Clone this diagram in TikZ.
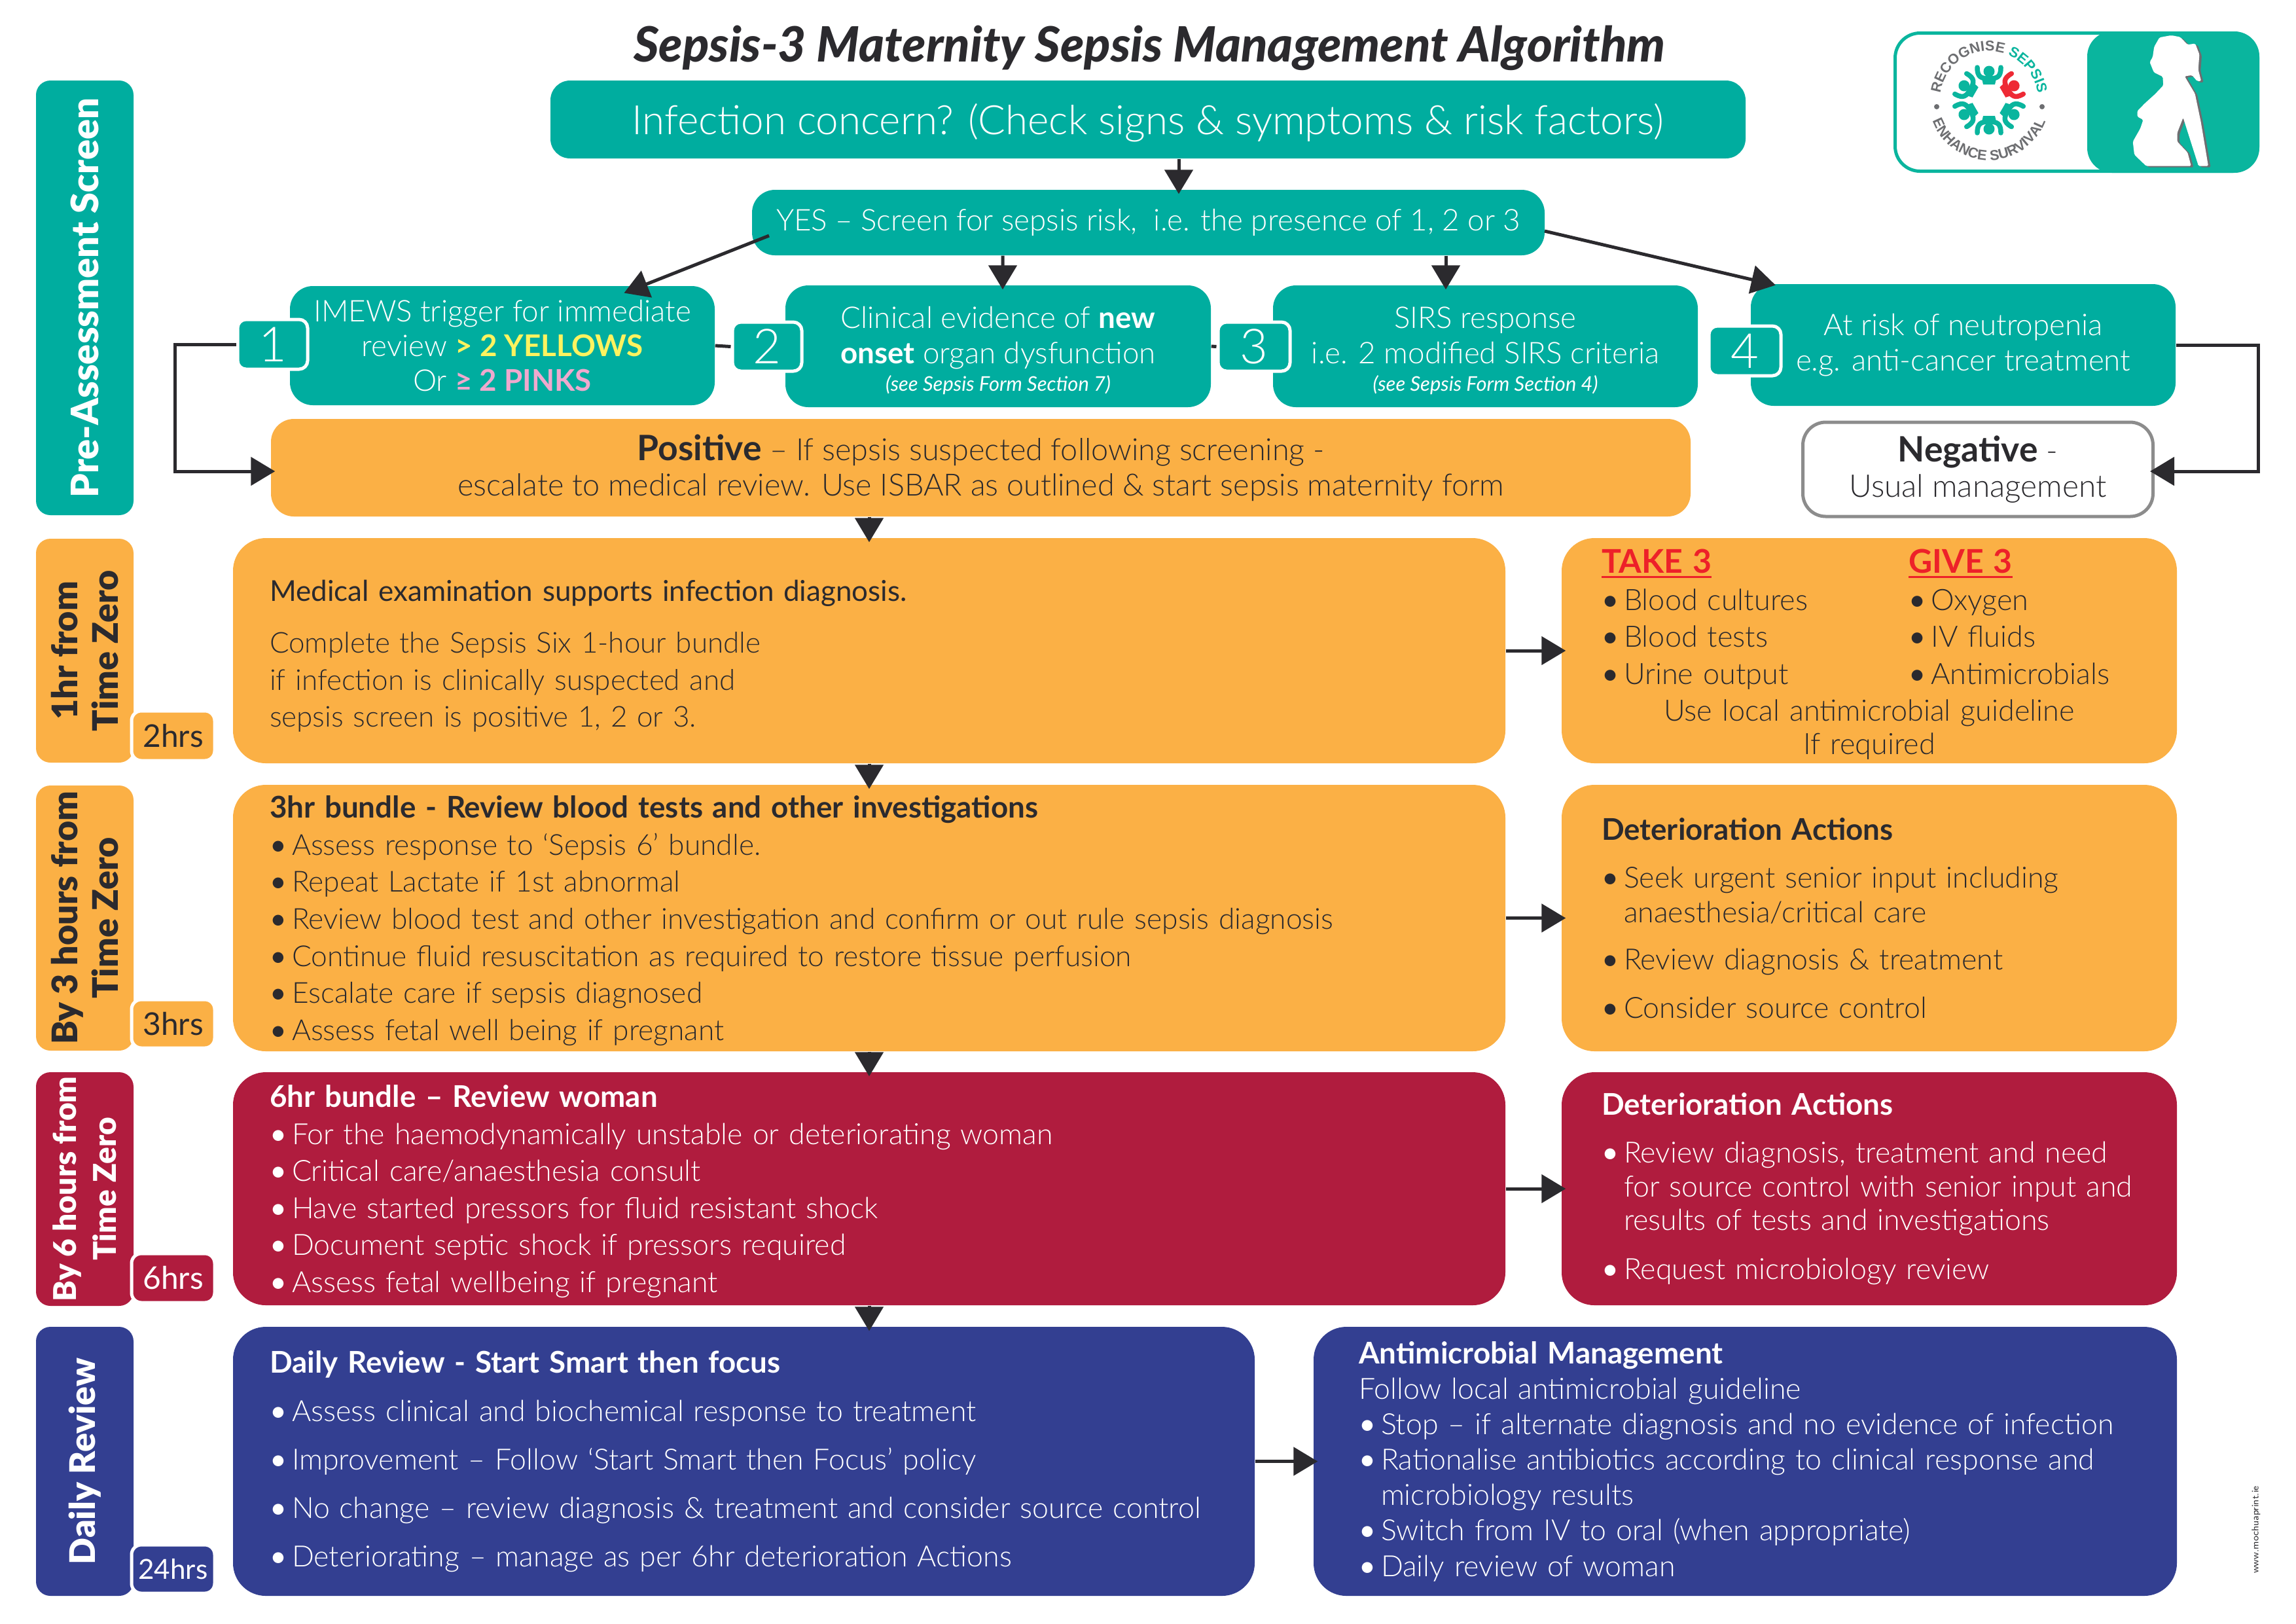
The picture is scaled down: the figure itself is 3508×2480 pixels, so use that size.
\documentclass[tikz,border=0pt]{standalone}
\usepackage{fontspec}
\usetikzlibrary{arrows.meta,decorations.text}
\setmainfont{Lato Light}[BoldFont=Lato Bold,ItalicFont=Lato Light Italic]
\newfontfamily\heavy{Lato Black}[ItalicFont=Lato Black Italic]
\newfontfamily\regular{Lato}
\newfontfamily\logofont{Liberation Sans}
\definecolor{teal}{HTML}{00AD9F}
\definecolor{logoteal}{HTML}{0AB59E}
\definecolor{logored}{HTML}{EE2A35}
\definecolor{logogray}{HTML}{6D6E71}
\definecolor{amber}{HTML}{FBB045}
\definecolor{crimson}{HTML}{B01C3E}
\definecolor{navy}{HTML}{333F91}
\definecolor{ink}{HTML}{2B2A2E}
\definecolor{trafficyellow}{HTML}{FFF35F}
\definecolor{trafficpink}{HTML}{EFA9CE}
\definecolor{alert}{HTML}{ED2129}
\newcommand{\bul}{\makebox[0.34cm][l]{{\regular\textbullet}}}
\newcommand{\hng}{\hspace*{0.34cm}}
\newcommand{\hdr}[1]{{\bfseries\fontsize{13}{\baselineskip}\selectfont #1}}
\newcommand{\bignote}[1]{{\bfseries\fontsize{15.2}{\baselineskip}\selectfont #1}}
\newcommand{\formnote}[1]{{\regular\itshape\fontsize{8.8}{\baselineskip}\selectfont #1}}
\newcommand{\redhead}[1]{\setbox0\hbox{\bfseries\fontsize{14.2}{\baselineskip}\selectfont #1}{\color{alert}\rlap{\rule[-2.2pt]{\wd0}{0.9pt}}\box0}}
\tikzset{
	sz/.style 2 args={minimum width=#1*0.01cm,minimum height=#2*0.01cm},
	tw/.style={text width=#1*0.01cm,align=left},
	block/.style={rectangle,inner sep=0pt,rounded corners=0.5cm},
	screen/.style={rectangle,inner sep=0pt,rounded corners=0.35cm,fill=teal,text=white,align=center,font=\fontsize{13}{15.2}\selectfont},
	numtag/.style={rectangle,inner sep=0pt,rounded corners=0.13cm,fill=teal,text=white,draw=white,line width=0.5mm,font=\fontsize{21}{24}\selectfont},
	sidetab/.style={rectangle,inner sep=0pt,rounded corners=0.22cm,rotate=90,align=center,font=\heavy\fontsize{15.3}{17.5}\selectfont},
	hrstag/.style={rectangle,inner sep=0pt,rounded corners=0.15cm,draw=white,line width=0.5mm,font=\regular\fontsize{13.6}{16}\selectfont},
	plain/.style={draw=ink,line width=0.5mm},
	flow/.style={draw=ink,line width=0.5mm,shorten >=-0.7mm,-{Triangle[length=3.7mm,width=4.3mm]}},
	pics/person/.style={code={
		\draw[#1,line width=0.75mm,line cap=round] (-18,-50) .. controls (-18,-35) and (-12,-33) .. (0,-33) .. controls (12,-33) and (18,-35) .. (18,-50);
		\fill[#1] (-11,-33) -- (11,-33) -- (9,-24) -- (-9,-24) -- cycle;
		\fill[#1] (0,-44) circle (8.5);
	}},
}
\begin{document}
\begin{tikzpicture}[x=0.01cm,y=-0.01cm]
	\useasboundingbox (0,0) rectangle (3508,2480);
	% Titel
	\node[font=\heavy\itshape\fontsize{21.15}{26}\selectfont,text=ink] (title) at (1756,73) {Sepsis-3 Maternity Sepsis Management Algorithm};
	% Logo
	\node[rectangle,rounded corners=0.38cm,draw=logoteal,fill=white,line width=0.5mm,sz={554}{211}] (logo) at (3172.5,156) {};
	\node[rectangle,rounded corners=0.38cm,fill=logoteal,sz={263}{216}] (panel) at (3320.5,156) {};
	\coordinate (lc) at (3039,153);
	\foreach \ang in {0,60,120,180,240}
		\pic[rotate=\ang] at (lc) {person=logoteal};
	\pic[rotate=300] at (lc) {person=logored};
	\path[decorate,decoration={text along path,text align=center,text={|\logofont\bfseries\fontsize{6.2}{7}\selectfont\color{logogray}|RECOGNISE |+\color{logoteal}|SEPSIS}}] (lc) ++(160:75) arc[start angle=160,end angle=380,radius=75];
	\path[decorate,decoration={text along path,text align=center,text={|\logofont\bfseries\fontsize{6.2}{7}\selectfont\color{logogray}|ENHANCE SURVIVAL}}] (lc) ++(180:92) arc[start angle=180,end angle=0,radius=92];
	\fill[logogray] (2959,163) circle (4);
	\fill[logogray] (3120,163) circle (4);
	% Silhouette
	\begin{scope}[shift={(2800,0)},x=0.004515cm,y=-0.003322cm]
		\def\bodyline{(1145,162) -- (1105,172) -- (1087,215) -- (1082,262) -- (1072,285) -- (1086,332) -- (1116,352) -- (1118,392) -- (1090,432) -- (1055,475) -- (1030,510) -- (1030,535) -- (1050,550) -- (1040,590) -- (1015,650) -- (1020,710) -- (1060,762) -- (1212,762) -- (1200,700) -- (1165,650) -- (1165,610) -- (1185,540) -- (1237,762) -- (1270,762) -- (1245,560) -- (1225,430) -- (1190,350) -- (1215,345) -- (1232,372) -- (1246,372) -- (1236,320) -- (1240,250) -- (1226,200) -- (1200,205) -- (1175,170) -- cycle}
		\fill[logogray,rounded corners=0.5pt,shift={(8,6)}] \bodyline;
		\fill[white,rounded corners=0.5pt] \bodyline;
	\end{scope}
	% Screening
	\node[block,fill=teal,text=white,rounded corners=0.3cm,sz={1826}{119},font=\fontsize{17.6}{22}\selectfont] (concern) at (1754,182.5) {\rule{0pt}{16.5pt}Infection concern? (Check signs \& symptoms \& risk factors)};
	\node[screen,sz={1211}{100}] (yes) at (1754.5,340) {YES -- Screen for sepsis risk,\ \ i.e. the presence of 1, 2 or 3};
	\node[screen,sz={649}{182}] (b1) at (767.5,528) {IMEWS trigger for immediate\\review \textbf{\textcolor{trafficyellow}{> 2 YELLOWS}}\\Or \textbf{\textcolor{trafficpink}{≥ 2 PINKS}}};
	\node[screen,sz={650}{186}] (b2) at (1525,529) {\rule{0pt}{13.2pt}Clinical evidence of \textbf{new}\\\textbf{onset} organ dysfunction\\[-3.1pt]\formnote{(see Sepsis Form Section 7)}};
	\node[screen,sz={649}{186}] (b3) at (2269.5,529) {\rule{0pt}{13.2pt}SIRS response\\i.e. 2 modified SIRS criteria\\[-3.1pt]\formnote{(see Sepsis Form Section 4)}};
	\node[screen,sz={649}{186}] (b4) at (2999.5,527) {At risk of neutropenia\\e.g. anti-cancer treatment};
	\node[numtag,sz={107}{76}] (n1) at (416.5,526) {1};
	\node[numtag,sz={106}{75}] (n2) at (1172,529.5) {2};
	\node[numtag,sz={110}{75}] (n3) at (1916,529.5) {3};
	\node[numtag,sz={110}{76}] (n4) at (2666,536) {4};
	\node[screen,fill=amber,text=ink,sz={2169}{149},font=\fontsize{13.3}{15.5}\selectfont] (pos) at (1498.5,714.5) {\bignote{Positive} -- If sepsis suspected following screening -\\escalate to medical review. Use ISBAR as outlined \& start sepsis maternity form};
	\node[screen,fill=white,text=ink,draw=gray!90,line width=0.5mm,sz={535}{144},font=\fontsize{13.6}{15.5}\selectfont] (neg) at (3022,717) {\bignote{Negative} -\\Usual management};
	% Seitenleiste
	\node[sidetab,fill=teal,text=white,sz={664}{149},font=\heavy\fontsize{16.4}{17.5}\selectfont] (t0) at (129.5,455) {Pre-Assessment Screen};
	\node[sidetab,fill=amber,text=ink,sz={342}{149}] (t1) at (129.5,994) {1hr from\\Time Zero};
	\node[sidetab,fill=amber,text=ink,sz={405}{149}] (t2) at (129.5,1402.5) {By 3 hours from\\Time Zero};
	\node[sidetab,fill=crimson,text=white,sz={357}{149},font=\heavy\fontsize{13.6}{17.5}\selectfont] (t3) at (129.5,1816.5) {By 6 hours from\\Time Zero};
	\node[sidetab,fill=navy,text=white,sz={411}{149}] (t4) at (129.5,2232.5) {Daily Review};
	\node[hrstag,fill=amber,text=ink,sz={127}{76}] (h1) at (264.5,1124) {2hrs};
	\node[hrstag,fill=amber,text=ink,sz={127}{74}] (h2) at (264.5,1564) {3hrs};
	\node[hrstag,fill=crimson,text=white,sz={127}{75}] (h3) at (264.5,1952.5) {6hrs};
	\node[hrstag,fill=navy,text=white,sz={127}{74},font=\regular\fontsize{12}{16}\selectfont] (h4) at (264.5,2397) {24hrs};
	% Zeilen
	\node[block,fill=amber,text=ink,sz={1944}{344},tw=1832,font=\fontsize{12.5}{16.1}\selectfont] (m1) at (1328,994) {{\regular\rule{0pt}{14pt}Medical examination supports infection diagnosis.}\\[6.3pt]
		Complete the Sepsis Six 1-hour bundle\\if infection is clinically suspected and\\sepsis screen is positive 1, 2 or 3.};
	\node[block,fill=amber,text=ink,sz={1944}{407},tw=1832,font=\fontsize{12.6}{16.1}\selectfont] (m2) at (1328,1402.5) {\hdr{\rule{0pt}{12pt}3hr bundle - Review blood tests and other investigations}\\
		\bul Assess response to ‘Sepsis 6’ bundle.\\
		\bul Repeat Lactate if 1st abnormal\\
		\bul Review blood test and other investigation and confirm or out rule sepsis diagnosis\\
		\bul Continue fluid resuscitation as required to restore tissue perfusion\\
		\bul Escalate care if sepsis diagnosed\\
		\bul Assess fetal well being if pregnant};
	\node[block,fill=crimson,text=white,sz={1944}{356},tw=1832,font=\fontsize{12.7}{16.1}\selectfont] (m3) at (1328,1816) {\hdr{\rule{0pt}{12pt}6hr bundle -- Review woman}\\
		\bul For the haemodynamically unstable or deteriorating woman\\
		\bul Critical care/anaesthesia consult\\
		\bul Have started pressors for fluid resistant shock\\
		\bul Document septic shock if pressors required\\
		\bul Assess fetal wellbeing if pregnant};
	\node[block,fill=navy,text=white,sz={1561}{411},tw=1449,font=\fontsize{12.7}{21}\selectfont] (m4) at (1136.5,2232.5) {\hdr{Daily Review - Start Smart then focus}\\
		\bul Assess clinical and biochemical response to treatment\\
		\bul Improvement -- Follow ‘Start Smart then Focus’ policy\\
		\bul No change -- review diagnosis \& treatment and consider source control\\
		\bul Deteriorating -- manage as per 6hr deterioration Actions};
	% rechte Spalte
	\node[block,fill=amber,text=ink,sz={940}{344},tw=818,font=\fontsize{12.8}{16.1}\selectfont] (r1) at (2856,994) {\rule{0pt}{13.5pt}\makebox[4.69cm][l]{\redhead{TAKE 3}}\redhead{GIVE 3}\\
		\makebox[4.69cm][l]{\bul Blood cultures}\bul Oxygen\\
		\makebox[4.69cm][l]{\bul Blood tests}\bul IV fluids\\
		\makebox[4.69cm][l]{\bul Urine output}\bul Antimicrobials\\
		\makebox[\linewidth][c]{Use local antimicrobial guideline}\\[-1.8pt]
		\makebox[\linewidth][c]{If required}};
	\node[block,fill=amber,text=ink,sz={940}{407},tw=818,font=\fontsize{12.7}{15}\selectfont] (r2) at (2856,1402.5) {\hdr{Deterioration Actions}\\[6pt]
		\bul Seek urgent senior input including\\
		\hng anaesthesia/critical care\\[5.5pt]
		\bul Review diagnosis \& treatment\\[6pt]
		\bul Consider source control};
	\node[block,fill=crimson,text=white,sz={940}{356},tw=818,font=\fontsize{12.7}{14.7}\selectfont] (r3) at (2856,1816) {\hdr{Deterioration Actions}\\[6pt]
		\bul Review diagnosis, treatment and need\\
		\hng for source control with senior input and\\
		\hng results of tests and investigations\\[6.5pt]
		\bul Request microbiology review};
	\node[block,fill=navy,text=white,sz={1319}{411},tw=1181,font=\fontsize{12.7}{15.4}\selectfont] (r4) at (2666.5,2232.5) {\hdr{Antimicrobial Management}\\
		Follow local antimicrobial guideline\\
		\bul Stop -- if alternate diagnosis and no evidence of infection\\
		\bul Rationalise antibiotics according to clinical response and\\
		\hng microbiology results\\
		\bul Switch from IV to oral (when appropriate)\\
		\bul Daily review of woman};
	\node[rotate=90,font=\fontsize{4.2}{5}\selectfont\sffamily,text=ink] (web) at (3447,2337) {www.mochuaprint.ie};
	% Pfeile
	\coordinate (leftbus) at (267,720);
	\coordinate (rightbus) at (3450,720);
	\draw[flow] (concern.south -| 1801,0) -- (yes.north -| 1801,0);
	\draw[flow] (1175,360) -- (960,445);
	\draw[flow] (yes.south -| b2) ++(7,0) -- ([xshift=0.07cm]b2.north);
	\draw[flow] (yes.south -| 2209,0) -- (b3.north -| 2209,0);
	\draw[flow] (2360,353) -- (2706,434);
	\draw[flow] (n1.west) -| (leftbus) -- (pos.west |- leftbus);
	\draw[flow] (b4.east) -| (rightbus) -- (neg.east |- rightbus);
	\draw[plain] (b1.east) -- (n2.west);
	\draw[plain] (b2.east) -- (n3.west);
	\draw[flow] (pos.south -| m1) -- (m1.north);
	\draw[flow] (m1) -- (m2);
	\draw[flow] (m2.south) -- (m3.north);
	\draw[flow] (m3.south) -- (m3.south |- m4.north);
	\draw[flow] (m1.east) -- (r1.west);
	\draw[flow] (m2.east) -- (r2.west);
	\draw[flow] (m3.east) -- (r3.west);
	\draw[flow] (m4.east) -- (r4.west);
\end{tikzpicture}
\end{document}
